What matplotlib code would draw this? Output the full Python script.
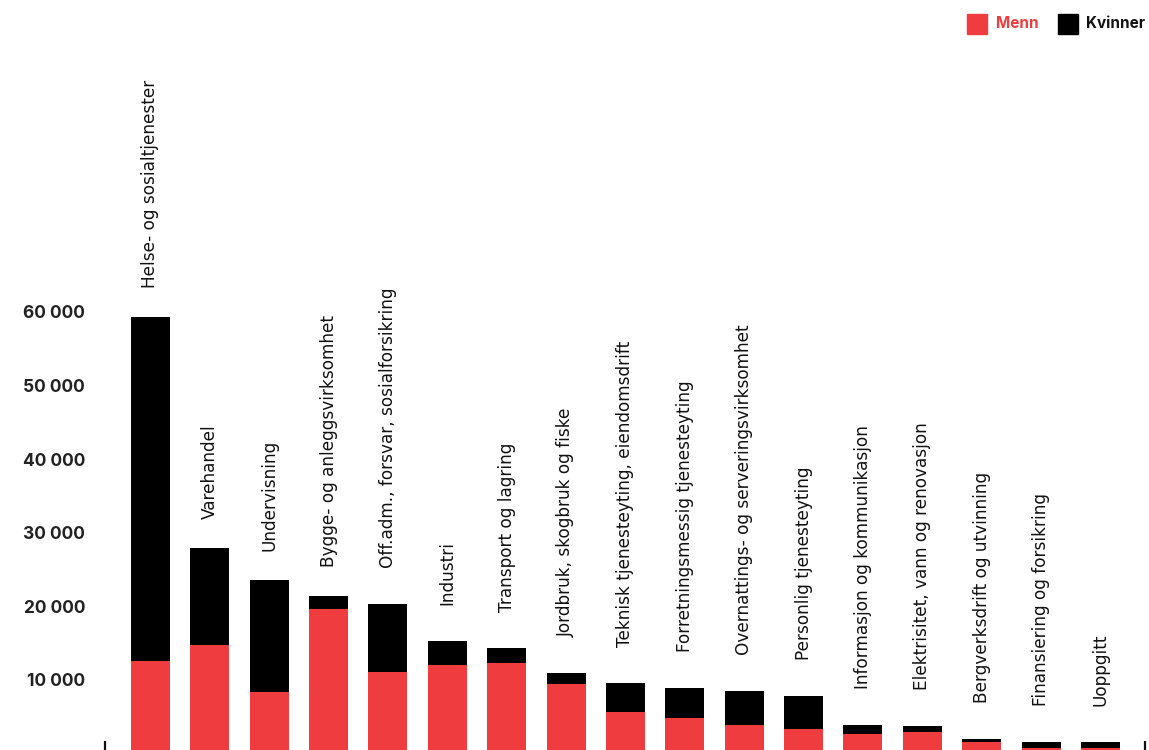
import matplotlib
matplotlib.use("Agg")
import matplotlib.pyplot as plt
from matplotlib.ticker import FuncFormatter
from matplotlib.patches import Rectangle

categories = [
    "Helse- og sosialtjenester",
    "Varehandel",
    "Undervisning",
    "Bygge- og anleggsvirksomhet",
    "Off.adm., forsvar, sosialforsikring",
    "Industri",
    "Transport og lagring",
    "Jordbruk, skogbruk og fiske",
    "Teknisk tjenesteyting, eiendomsdrift",
    "Forretningsmessig tjenesteyting",
    "Overnattings- og serveringsvirksomhet",
    "Personlig tjenesteyting",
    "Informasjon og kommunikasjon",
    "Elektrisitet, vann og renovasjon",
    "Bergverksdrift og utvinning",
    "Finansiering og forsikring",
    "Uoppgitt",
]
menn = [12600, 14750, 8400, 19650, 11100, 12050, 12300, 9450, 5650, 4850,
        3850, 3350, 2650, 2950, 1600, 750, 750]
kvinner = [46700, 13200, 15200, 1750, 9200, 3250, 2050, 1500, 3950, 4050,
           4650, 4450, 1250, 800, 400, 800, 800]
yticks = [10000, 20000, 30000, 40000, 50000, 60000]

RED = "#EF3D3F"
BLACK = "#000000"
FONT = "Inter"
LABEL_FONT = "DejaVu Sans"

fig = plt.figure(figsize=(11.49, 7.5), dpi=100)
ax = fig.add_axes([105 / 1149, -3.6 / 750, 1040 / 1149, 441.6 / 750])

x = list(range(len(categories)))
w = 0.657
ax.bar(x, menn, width=w, color=RED, linewidth=0)
ax.bar(x, kvinner, width=w, bottom=menn, color=BLACK, linewidth=0)

for i, (xi, m, k, lab) in enumerate(zip(x, menn, kvinner, categories)):
    gap_px = 29 if i < 4 else 36
    ax.annotate(lab, xy=(xi, m + k), xytext=(0, gap_px * 0.72), textcoords="offset points",
                rotation=90, ha="center", va="bottom", fontsize=12.2,
                fontfamily=LABEL_FONT, color="#111111")

ax.set_xlim(-0.766, 16.75)
ax.set_ylim(0, 60000)
ax.set_yticks(yticks)
ax.yaxis.set_major_formatter(FuncFormatter(lambda v, p: f"{int(v):,}".replace(",", " ")))
ax.tick_params(axis="y", length=0, pad=14.4, labelsize=12.5)
for t in ax.get_yticklabels():
    t.set_fontfamily(FONT)
    t.set_fontweight("bold")
    t.set_color("#222222")

ax.set_xticks([-0.766, 16.75])
ax.set_xticklabels(["", ""])
ax.tick_params(axis="x", direction="in", length=9.5, width=1.6, color="#111111")

for s in ax.spines.values():
    s.set_visible(False)

# legend
fig.patches.append(Rectangle((967 / 1149, 1 - 34 / 750), 20 / 1149, 20 / 750,
                             transform=fig.transFigure, color=RED))
fig.text(996 / 1149, 1 - 24 / 750, "Menn", color=RED, fontsize=11, fontweight="bold",
         family=FONT, va="center", ha="left")
fig.patches.append(Rectangle((1058 / 1149, 1 - 34 / 750), 20 / 1149, 20 / 750,
                             transform=fig.transFigure, color=BLACK))
fig.text(1086 / 1149, 1 - 24 / 750, "Kvinner", color="#111111", fontsize=11,
         fontweight="bold", family=FONT, va="center", ha="left")

fig.savefig("out.png", dpi=100)
